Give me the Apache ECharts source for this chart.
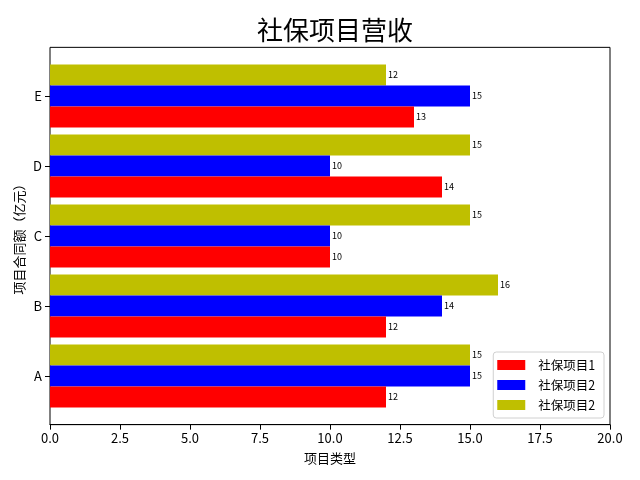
<!DOCTYPE html>
<html>
<head>
<meta charset="utf-8">
<script src="https://cdn.jsdelivr.net/npm/echarts@6/dist/echarts.min.js"></script>
<style>
  html, body { margin: 0; padding: 0; background: #fff; }
  #chart { width: 640px; height: 480px; }
</style>
</head>
<body>
<div id="chart"></div>
<script>
const categories = ["A", "B", "C", "D", "E"];
const project1 = [12, 12, 10, 14, 13];
const project2 = [15, 14, 10, 10, 15];
const project3 = [15, 16, 15, 15, 12];
const xTicks = [0, 2.5, 5, 7.5, 10, 12.5, 15, 17.5, 20];

const seriesNames = ["社保项目1", "社保项目2", "社保项目2 "];
const seriesColors = ["#ff0000", "#0000ff", "#bfbf00"];
const seriesData = [project1, project2, project3];

const font = "Noto Sans CJK SC";
const chart = echarts.init(document.getElementById("chart"), null, { renderer: "canvas" });

// echarts stacks horizontal bars top-down, so the series go in reversed
const order = [2, 1, 0];

// grid 0 holds the bars, grid 1 is the matplotlib style frame with the x axis
chart.setOption({
  animation: false,
  textStyle: { fontFamily: font, color: "#000" },
  title: {
    text: "社保项目营收",
    left: 330,
    textAlign: "center",
    top: 12,
    textStyle: { fontFamily: font, fontSize: 26, fontWeight: "normal", color: "#000" }
  },
  legend: {
    data: seriesNames,
    orient: "vertical",
    right: 36,
    bottom: 62,
    icon: "rect",
    itemWidth: 28,
    itemHeight: 10,
    itemGap: 6,
    padding: [6, 6, 6, 4],
    borderColor: "#d0d0d0",
    borderWidth: 1,
    borderRadius: 3,
    backgroundColor: "#fff",
    textStyle: { fontFamily: font, fontSize: 12.5, color: "#000", padding: [0, 0, 0, 8], lineHeight: 14 }
  },
  grid: [
    { left: 50, width: 560, top: 61, height: 350 },
    { left: 50, width: 560, top: 47.35, height: 377.3, show: true, borderColor: "#000", borderWidth: 1, backgroundColor: "transparent" }
  ],
  xAxis: [
    { gridIndex: 0, type: "value", min: 0, max: 20, show: false },
    {
      gridIndex: 1, type: "value", min: 0, max: 20, interval: 2.5,
      name: "项目类型", nameLocation: "middle", nameGap: 27,
      nameTextStyle: { fontFamily: font, fontSize: 13, color: "#000" },
      axisLine: { show: true, lineStyle: { color: "#000" } },
      axisTick: { show: true, length: 5, lineStyle: { color: "#000" } },
      axisLabel: { fontFamily: font, fontSize: 13, color: "#000", margin: 7,
        formatter: (v) => xTicks.includes(v) ? v.toFixed(1) : "" },
      splitLine: { show: false }
    }
  ],
  yAxis: [
    {
      gridIndex: 0, type: "category", data: categories,
      axisLine: { show: false },
      axisTick: { show: true, alignWithLabel: true, length: 5, lineStyle: { color: "#000" } },
      axisLabel: { fontFamily: font, fontSize: 13, color: "#000", margin: 8 },
      splitLine: { show: false }
    },
    {
      gridIndex: 1, type: "value", min: 0, max: 1,
      name: "项目合同额（亿元）", nameLocation: "middle", nameGap: 24,
      nameTextStyle: { fontFamily: font, fontSize: 13, color: "#000" },
      axisLine: { show: false }, axisTick: { show: false },
      axisLabel: { show: false }, splitLine: { show: false }
    }
  ],
  series: order.map((i) => ({
    name: seriesNames[i],
    type: "bar",
    xAxisIndex: 0,
    yAxisIndex: 0,
    data: seriesData[i],
    barGap: "0%",
    barCategoryGap: "10%",
    itemStyle: { color: seriesColors[i] },
    label: { show: true, position: "right", distance: 2, fontFamily: font, fontSize: 9, color: "#000" }
  }))
});
</script>
</body>
</html>
